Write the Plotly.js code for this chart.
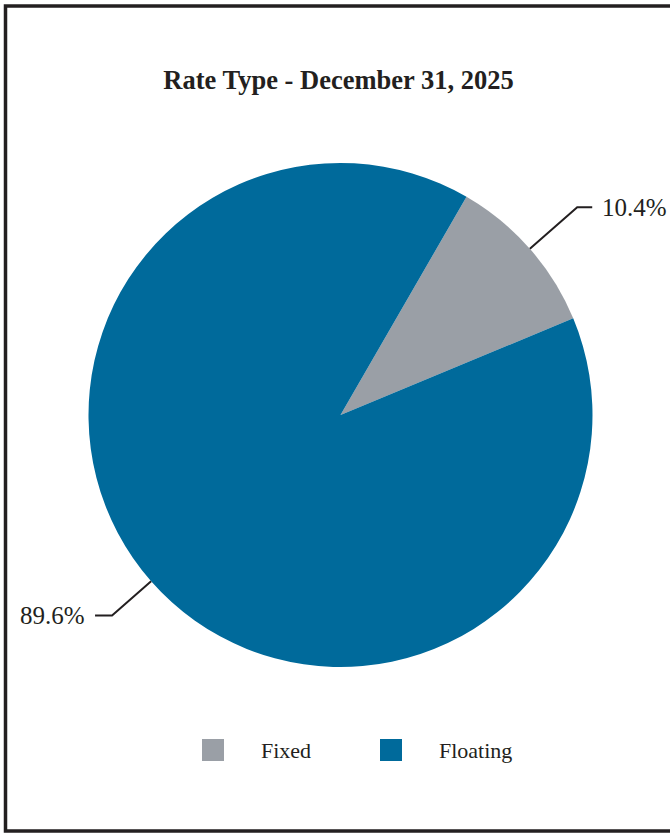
<!DOCTYPE html>
<html>
<head>
<meta charset="utf-8">
<script src="https://cdn.plot.ly/plotly-3.0.1.min.js"></script>
<style>html,body{margin:0;padding:0;background:#fff;}#chart{width:670px;height:833px;}</style>
</head>
<body>
<div id="chart"></div>
<script>
// ---- data ----
const categories = ["Fixed", "Floating"];
const shares = [10.4, 89.6];
const sliceLabels = ["10.4%", "89.6%"];
const chartTitle = "Rate Type - December 31, 2025";

// ---- styling / layout constants ----
const W = 670, H = 833;
const colors = ["#9a9fa6", "#006a9b"];
const ink = "#231f20";
const serif = "Liberation Serif, Times New Roman, serif";
const cx = 340.5, cy = 415, R = 252;   // pie centre/radius in px
const startRot = 30;                   // degrees clockwise from 12 o'clock
const leaderExt = [63, 52];            // radial length of each leader line (px)
const leaderRun = [15, 17];            // horizontal run of each leader line (px)

const px = x => x / W;
const py = y => 1 - y / H;

const shapes = [];
const annotations = [];

// border (right side runs off the page)
shapes.push({type: "rect", xref: "paper", yref: "paper",
  x0: px(5.5), x1: px(W + 20), y0: py(6), y1: py(831),
  line: {color: ink, width: 3.5}, layer: "above"});

// leader lines + percentage labels computed from slice angles
const total = shares.reduce((a, b) => a + b, 0);
let acc = 0;
shares.forEach((v, i) => {
  const mid = startRot + (acc + v / 2) / total * 360;
  acc += v;
  const t = mid * Math.PI / 180;
  const sx = Math.sin(t), sy = -Math.cos(t);
  const p0 = [cx + R * sx, cy + R * sy];
  const ext = leaderExt[i];
  const p1 = [cx + (R + ext) * sx, cy + (R + ext) * sy];
  const dir = sx >= 0 ? 1 : -1;
  const p2 = [p1[0] + dir * leaderRun[i], p1[1]];
  shapes.push({type: "path", xref: "paper", yref: "paper",
    path: `M ${px(p0[0])},${py(p0[1])} L ${px(p1[0])},${py(p1[1])} L ${px(p2[0])},${py(p2[1])}`,
    line: {color: ink, width: 2}});
  annotations.push({xref: "paper", yref: "paper",
    x: px(p2[0] + dir * 8), y: py(p2[1]),
    xanchor: dir > 0 ? "left" : "right", yanchor: "middle",
    text: sliceLabels[i], showarrow: false,
    font: {family: serif, size: 25, color: ink}});
});

// manual legend
categories.forEach((c, i) => {
  const x0 = 202 + i * 178;
  shapes.push({type: "rect", xref: "paper", yref: "paper",
    x0: px(x0), x1: px(x0 + 22), y0: py(739), y1: py(761),
    fillcolor: colors[i], line: {width: 0}});
  annotations.push({xref: "paper", yref: "paper",
    x: px(x0 + 57), y: py(750), xanchor: "left", yanchor: "middle",
    text: c, showarrow: false,
    font: {family: serif, size: 22, color: ink}});
});

const trace = {
  type: "pie",
  labels: categories,
  values: shares,
  sort: false,
  direction: "clockwise",
  rotation: startRot,
  marker: {colors: colors, line: {width: 0}},
  textinfo: "none",
  hoverinfo: "label+percent",
  showlegend: false,
  domain: {x: [px(cx - R), px(cx + R)], y: [py(cy + R), py(cy - R)]}
};

const layout = {
  width: W, height: H,
  margin: {l: 0, r: 0, t: 0, b: 0},
  paper_bgcolor: "#ffffff",
  showlegend: false,
  title: {text: "<b>" + chartTitle + "</b>", x: 338.5 / W, xanchor: "center",
    y: py(80), yanchor: "middle", yref: "paper",
    font: {family: serif, size: 26.5, color: ink}},
  shapes: shapes,
  annotations: annotations
};

Plotly.newPlot("chart", [trace], layout, {displayModeBar: false, staticPlot: true});
</script>
</body>
</html>
